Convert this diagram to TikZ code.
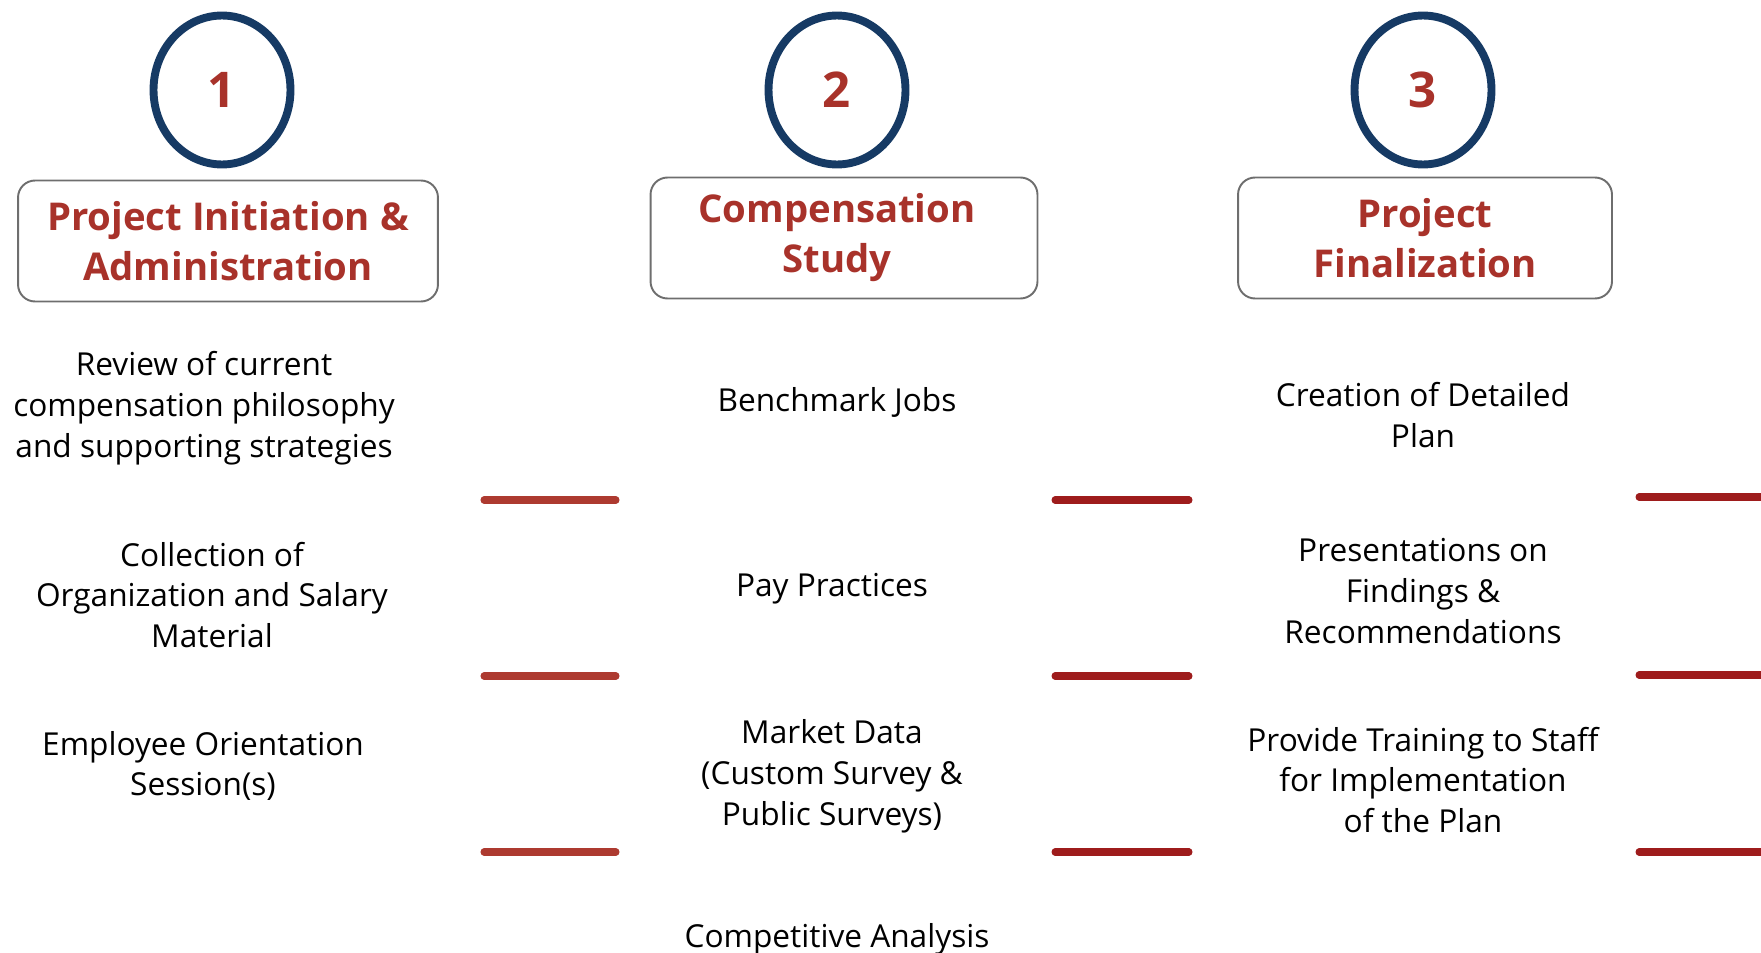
\documentclass[tikz,border=0pt]{standalone}
\usepackage{fontspec}
\setmainfont{Open Sans}
\usetikzlibrary{shapes.geometric}
\definecolor{stepnavy}{HTML}{163A64}
\definecolor{headred}{HTML}{A8322A}
\definecolor{barred}{HTML}{9E1C1C}
\definecolor{barredlight}{HTML}{AD3A30}
\definecolor{boxgray}{HTML}{6E6E6E}
\tikzset{
    stepcircle/.style={ellipse, draw=stepnavy, line width=4.5pt, minimum width=2.74cm,
        minimum height=2.98cm, inner sep=0pt, text=headred,
        font=\bfseries\fontsize{28}{30}\selectfont},
    phasebox/.style={draw=boxgray, line width=1.1pt, rounded corners=0.34cm,
        minimum height=2.42cm, align=center, text=headred,
        font=\bfseries\fontsize{21.8}{28.5}\selectfont},
    tasktext/.style={align=center, inner sep=0pt, font=\fontsize{18}{23.3}\selectfont},
    sepbar/.style={line width=4pt, line cap=round}
}
\begin{document}
\begin{tikzpicture}[x=0.02cm, y=-0.02cm]
            \useasboundingbox (0, 0) rectangle (1761, 953);
            % step numbers
            \node[stepcircle] (num1) at (222, 90) {1};
            \node[stepcircle] (num2) at (837, 90) {2};
            \node[stepcircle] (num3) at (1423, 90) {3};
            % phase titles
            \node[phasebox, minimum width=8.4cm] (phase1) at (228, 241) {Project Initiation \&\\Administration};
            \node[phasebox, minimum width=7.74cm] (phase2) at (844, 238) {\hspace*{-8pt}Compensation\\\hspace*{-8pt}Study};
            \node[phasebox, minimum width=7.48cm] (phase3) at (1425, 238) {Project\\Finalization};
            % tasks of phase 1
            \node[tasktext] (review) at (204, 408) {Review of current\\compensation philosophy\\and supporting strategies};
            \node[tasktext] (collect) at (212, 595) {Collection of\\Organization and Salary\\Material};
            \node[tasktext] (orient) at (203, 766) {Employee Orientation\\Session(s)};
            % tasks of phase 2
            \node[tasktext] (bench) at (837, 402) {Benchmark Jobs};
            \node[tasktext] (pay) at (832, 589) {Pay Practices};
            \node[tasktext] (market) at (832, 776) {Market Data\\(Custom Survey \&\\Public Surveys)};
            \node[tasktext] (compet) at (837, 939) {Competitive Analysis};
            % tasks of phase 3
            \node[tasktext] (create) at (1423, 415) {Creation of Detailed\\Plan};
            \node[tasktext] (present) at (1423, 591) {Presentations on\\Findings \&\\Recommendations};
            \node[tasktext] (train) at (1423, 780) {Provide Training to Staff\\for Implementation\\of the Plan};
            % separator bars
            \foreach \y in {500, 676, 852} {
                \draw[sepbar, barredlight] (484, \y) -- (616, \y);
                \draw[sepbar, barred] (1055, \y) -- (1189, \y);
            }
            \foreach \y in {497, 675, 852} {
                \draw[sepbar, barred] (1639, \y) -- (1775, \y);
            }
        \end{tikzpicture}
\end{document}
